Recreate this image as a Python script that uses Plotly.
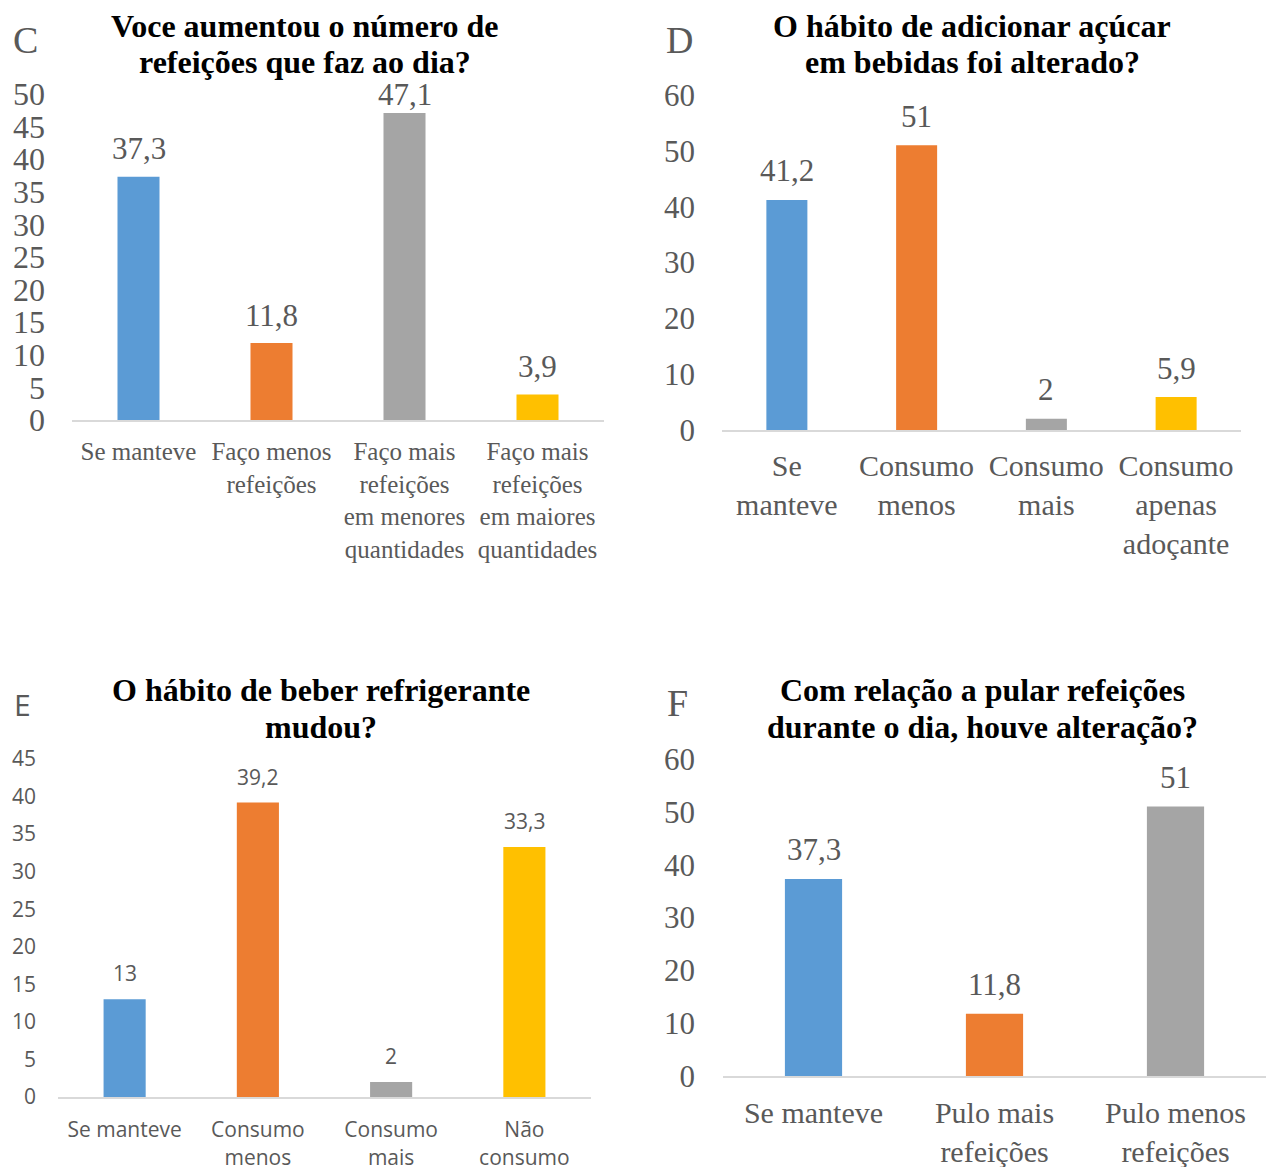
import plotly.graph_objects as go

# ---------------- data ----------------
c_title = ["Voce aumentou o número de", "refeições que faz ao dia?"]
c_cats = ["Se manteve", "Faço menos<br>refeições", "Faço mais<br>refeições<br>em menores<br>quantidades",
          "Faço mais<br>refeições<br>em maiores<br>quantidades"]
c_vals = [37.3, 11.8, 47.1, 3.9]

d_title = ["O hábito de adicionar açúcar", "em bebidas foi alterado?"]
d_cats = ["Se<br>manteve", "Consumo<br>menos", "Consumo<br>mais", "Consumo<br>apenas<br>adoçante"]
d_vals = [41.2, 51, 2, 5.9]

e_title = ["O hábito de beber refrigerante", "mudou?"]
e_cats = ["Se manteve", "Consumo<br>menos", "Consumo<br>mais", "Não<br>consumo"]
e_vals = [13, 39.2, 2, 33.3]

f_title = ["Com relação a pular refeições", "durante o dia, houve alteração?"]
f_cats = ["Se manteve", "Pulo mais<br>refeições", "Pulo menos<br>refeições"]
f_vals = [37.3, 11.8, 51]

colors = ["#5B9BD5", "#ED7D31", "#A5A5A5", "#FFC000"]

W, H = 1270, 1167
SERIF = "Liberation Serif, Times New Roman, serif"
SANS = "Open Sans, Arial, sans-serif"
GREY = "#595959"


def px(x):
    return x / W


def py(y):
    return 1 - y / H


panels = [
    dict(key="", cats=c_cats, vals=c_vals, title=c_title, letter="C", ymax=50, dtick=5,
         xd=(72, 604), yd=(420, 94), font=SERIF, tick_size=32, xlab_size=25, lab_size=31,
         lab_off=28, ystand=26, xstand=8, title_c=(305, 26, 62), letter_pos=(25, 40), letter_font=SERIF),
    dict(key="2", cats=d_cats, vals=d_vals, title=d_title, letter="D", ymax=60, dtick=10,
         xd=(722, 1241), yd=(430, 95), font=SERIF, tick_size=31, xlab_size=30, lab_size=31,
         lab_off=29, ystand=26, xstand=8, title_c=(972, 26, 62), letter_pos=(679, 40), letter_font=SERIF),
    dict(key="3", cats=e_cats, vals=e_vals, title=e_title, letter="E", ymax=45, dtick=5,
         xd=(58, 591), yd=(1097, 759), font=SANS, tick_size=21, xlab_size=21, lab_size=21,
         lab_off=26, ystand=21, xstand=13, title_c=(321, 690, 727), letter_pos=(22, 704), letter_font=SANS),
    dict(key="4", cats=f_cats, vals=f_vals, title=f_title, letter="F", ymax=60, dtick=10,
         xd=(723, 1266), yd=(1076, 759), font=SERIF, tick_size=31, xlab_size=30, lab_size=31,
         lab_off=29, ystand=27, xstand=9, title_c=(982, 690, 727), letter_pos=(677, 703), letter_font=SERIF),
]

fig = go.Figure()
annotations = []
layout = {}

for p in panels:
    k = p["key"]
    xa, ya = "x" + k, "y" + k
    fig.add_trace(go.Bar(
        x=p["cats"], y=p["vals"], xaxis=xa, yaxis=ya,
        marker=dict(color=colors[:len(p["vals"])], line=dict(width=0)),
        width=0.316, showlegend=False, hoverinfo="skip",
    ))
    layout["xaxis" + k] = dict(
        domain=[px(p["xd"][0]), px(p["xd"][1])], anchor=ya,
        showline=True, linecolor="#D9D9D9", linewidth=2, ticks="", tickangle=0,
        showgrid=False, zeroline=False, ticklabelstandoff=p["xstand"], automargin=False,
        tickfont=dict(family=p["font"], size=p["xlab_size"], color=GREY),
        fixedrange=True,
    )
    layout["yaxis" + k] = dict(
        domain=[py(p["yd"][0]), py(p["yd"][1])], anchor=xa,
        range=[0, p["ymax"]], dtick=p["dtick"], tick0=0,
        showline=False, showgrid=False, zeroline=False, ticks="", automargin=False,
        ticklabelstandoff=p["ystand"],
        tickfont=dict(family=p["font"], size=p["tick_size"], color=GREY),
        fixedrange=True,
    )
    # data labels (kept inside plot area like Excel)
    ppu = (p["yd"][0] - p["yd"][1]) / p["ymax"]
    for c, v in zip(p["cats"], p["vals"]):
        shift = min(p["lab_off"], (p["ymax"] - v) * ppu)
        annotations.append(dict(
            x=c, y=v, xref=xa, yref=ya, yshift=shift, showarrow=False,
            text=str(v).replace(".", ","), yanchor="middle", xanchor="center",
            font=dict(family=p["font"], size=p["lab_size"], color=GREY),
        ))
    # titles
    tx, ty1, ty2 = p["title_c"]
    for line, ty in zip(p["title"], (ty1, ty2)):
        annotations.append(dict(
            x=px(tx), y=py(ty), xref="paper", yref="paper", showarrow=False,
            text="<b>" + line + "</b>", xanchor="center", yanchor="middle",
            font=dict(family=SERIF, size=32, color="#000000"),
        ))
    # panel letter
    lx, ly = p["letter_pos"]
    annotations.append(dict(
        x=px(lx), y=py(ly), xref="paper", yref="paper", showarrow=False,
        text=p["letter"], xanchor="center", yanchor="middle",
        font=dict(family=p["letter_font"], size=38 if p["letter_font"] == SERIF else 30, color=GREY),
    ))

fig.update_layout(
    width=W, height=H, margin=dict(l=0, r=0, t=0, b=0, pad=0, autoexpand=False),
    paper_bgcolor="white", plot_bgcolor="white",
    bargap=0.684, annotations=annotations, **layout,
)

fig.write_html("out.html", config={"displayModeBar": False})
